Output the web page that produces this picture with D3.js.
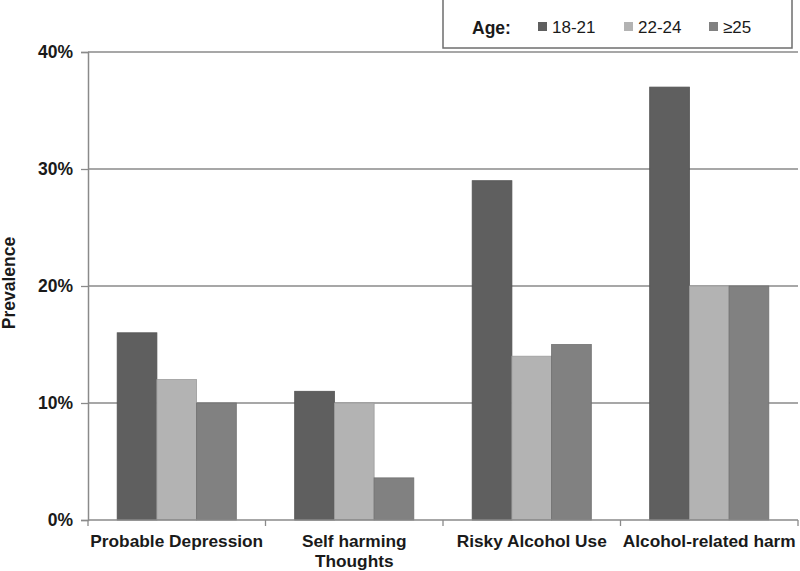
<!DOCTYPE html>
<html><head><meta charset="utf-8">
<script src="https://cdn.jsdelivr.net/npm/d3@7"></script>
<style>body{margin:0;background:#fff}svg{display:block;font-family:"Liberation Sans",Arial,sans-serif}</style>
</head><body>
<svg id="c" width="800" height="571"></svg>
<script>
const categories = ["Probable Depression", "Self harming\nThoughts", "Risky Alcohol Use", "Alcohol-related harm"];
const seriesNames = ["18-21", "22-24", "≥25"];
const seriesColors = ["#5f5f5f", "#b3b3b3", "#818181"];
const v1821 = [16, 11, 29, 37];
const v2224 = [12, 10, 14, 20];
const v25 = [10, 3.6, 15, 20];
const yTicks = [0, 10, 20, 30, 40];
const seriesValues = [v1821, v2224, v25];

const svg = d3.select("#c");
const m = {l: 88, r: 798, t: 52, b: 520};
const x = d3.scaleBand().domain(categories).range([m.l, m.r]).paddingInner(0).paddingOuter(0);
const xs = d3.scaleBand().domain(seriesNames).range([0, x.bandwidth()]).paddingInner(0).paddingOuter(0.735);
const y = d3.scaleLinear().domain([0, 40]).range([m.b, m.t]);
const axisCol = "#8a8a8a";

// gridlines
svg.append("g").selectAll("line").data(yTicks.filter(d => d > 0)).join("line")
  .attr("x1", m.l).attr("x2", m.r).attr("y1", d => y(d)).attr("y2", d => y(d))
  .attr("stroke", axisCol).attr("stroke-width", 1.3);

// bars
categories.forEach((c, ci) => {
  seriesNames.forEach((s, si) => {
    const val = seriesValues[si][ci];
    svg.append("rect")
      .attr("x", x(c) + xs(s)).attr("width", xs.bandwidth())
      .attr("y", y(val)).attr("height", y(0) - y(val))
      .attr("fill", seriesColors[si])
      .attr("stroke", d3.color(seriesColors[si]).darker(0.4)).attr("stroke-width", 0.8);
  });
});

// y axis
const ya = svg.append("g").attr("transform", `translate(${m.l},0)`)
  .call(d3.axisLeft(y).tickValues(yTicks).tickFormat(d => d + "%").tickSize(7).tickPadding(8));
ya.select(".domain").attr("stroke", axisCol).attr("stroke-width", 1.5);
ya.selectAll(".tick line").attr("stroke", axisCol).attr("stroke-width", 1.3);
ya.selectAll(".tick text").attr("font-size", 17.5).attr("font-weight", "bold").attr("fill", "#1a1a1a")
  .attr("font-family", "Liberation Sans, Arial, sans-serif");

// x axis
svg.append("line").attr("x1", m.l).attr("x2", m.r).attr("y1", m.b).attr("y2", m.b)
  .attr("stroke", axisCol).attr("stroke-width", 1.5);
const bounds = categories.map(c => x(c)).concat([m.r]);
svg.append("g").selectAll("line").data(bounds).join("line")
  .attr("x1", d => d).attr("x2", d => d).attr("y1", m.b).attr("y2", m.b + 6)
  .attr("stroke", axisCol).attr("stroke-width", 1.3);
const xlg = svg.append("g");
categories.forEach(c => {
  c.split("\n").forEach((ln, i) => {
    xlg.append("text")
      .attr("x", x(c) + x.bandwidth() / 2).attr("y", 547 + i * 19.5)
      .attr("text-anchor", "middle").attr("font-size", 17.3).attr("font-weight", "bold").attr("fill", "#1a1a1a")
      .text(ln);
  });
});

// y title
svg.append("text").attr("transform", "translate(15,283) rotate(-90)")
  .attr("text-anchor", "middle").attr("font-size", 17.5).attr("font-weight", "bold").attr("fill", "#1a1a1a")
  .text("Prevalence");

// legend
svg.append("rect").attr("x", 443).attr("y", -2).attr("width", 349).attr("height", 50)
  .attr("fill", "#fff").attr("stroke", "#6e6e6e").attr("stroke-width", 1.5);
svg.append("text").attr("x", 472).attr("y", 34).attr("font-size", 17.5).attr("font-weight", "bold").attr("fill", "#1a1a1a").text("Age:");
const legX = [538, 624, 709];
seriesNames.forEach((s, i) => {
  svg.append("rect").attr("x", legX[i]).attr("y", 22).attr("width", 9).attr("height", 9).attr("fill", seriesColors[i]);
  svg.append("text").attr("x", legX[i] + 14).attr("y", 33).attr("font-size", 17).attr("fill", "#1a1a1a").text(s);
});
</script>
</body></html>
